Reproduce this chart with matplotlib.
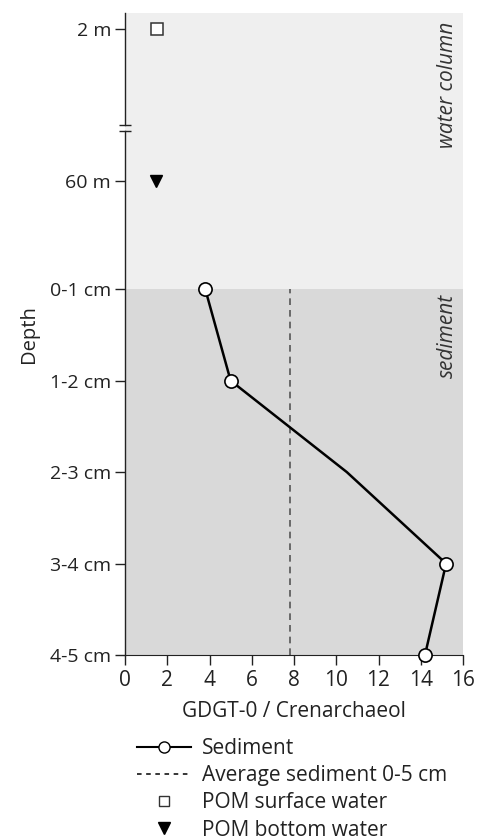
import matplotlib
matplotlib.use('Agg')
import matplotlib.pyplot as plt
from matplotlib.lines import Line2D

plt.rcParams['font.family'] = ['Open Sans', 'DejaVu Sans']

# ─── Data ─────────────────────────────────────────────────────────────────────
depth_labels = ['2 m', '60 m', '0-1 cm', '1-2 cm', '2-3 cm', '3-4 cm', '4-5 cm']
sed_labels = ['0-1 cm', '1-2 cm', '2-3 cm', '3-4 cm', '4-5 cm']
sed_ratio = [3.8, 5.0, 10.5, 15.2, 14.2]
sed_marked = [0, 1, 3, 4]   # 2-3 cm has no marker in the original
sed_avg = 7.83
pom_surface = 1.5   # 2 m
pom_bottom = 1.45   # 60 m

# vertical layout of the (broken) depth axis
ypos = {'2 m': -2.85, '60 m': -1.18, '0-1 cm': 0, '1-2 cm': 1,
        '2-3 cm': 2, '3-4 cm': 3, '4-5 cm': 4}
y_top, y_bot, y_break = -3.02, 4.0, -1.76

fig = plt.figure(figsize=(4.78, 8.4), dpi=100)
ax = fig.add_axes([125/478, 1 - 655/840, 338/478, 642/840])

ax.axhspan(y_top, 0, color='#efefef', lw=0, zorder=0)
ax.axhspan(0, y_bot, color='#d9d9d9', lw=0, zorder=0)

ax.axvline(sed_avg, ymin=0, ymax=(y_bot - 0) / (y_bot - y_top),
           color='#555555', ls=(0, (4, 3)), lw=1.2, zorder=2)
ax.plot(sed_ratio, [ypos[d] for d in sed_labels], '-o', color='black', lw=1.8,
        markevery=sed_marked, mfc='white', mec='black', mew=1.2, ms=9.5,
        zorder=3, clip_on=False)
ax.plot(pom_surface, ypos['2 m'], 's', mfc='white', mec='#333333', mew=1.1, ms=8.5)
ax.plot(pom_bottom, ypos['60 m'], 'v', color='black', ms=9)

ax.set_xlim(0, 16)
ax.set_ylim(y_bot, y_top)
ax.set_xticks(range(0, 17, 2))
ax.set_yticks([ypos[d] for d in depth_labels])
ax.set_yticklabels(depth_labels)
ax.tick_params(axis='both', direction='out', length=7, width=1,
               color='#222222', labelcolor='#222222')
ax.tick_params(axis='y', pad=3, labelsize=14)
ax.tick_params(axis='x', pad=4, labelsize=15)

for s in ['top', 'right', 'left']:
    ax.spines[s].set_visible(False)
ax.spines['bottom'].set_color('#222222')

# left spine with axis break
tr = ax.get_yaxis_transform()
ax.plot([0, 0], [y_top, y_break - 0.03], color='#222222', lw=1, transform=tr, clip_on=False)
ax.plot([0, 0], [y_break + 0.03, y_bot], color='#222222', lw=1, transform=tr, clip_on=False)
ax.plot([0, 0], [y_break - 0.03, y_break + 0.03], ls='none', marker='_', ms=8, mew=1,
        color='#222222', transform=tr, clip_on=False)

ax.text(0.985, y_top + 0.1, 'water column', rotation=90, style='italic', fontsize=15,
        color='#333333', ha='right', va='top', transform=tr)
ax.text(0.985, 0.05, 'sediment', rotation=90, style='italic', fontsize=15,
        color='#333333', ha='right', va='top', transform=tr)

ax.set_xlabel('GDGT-0 / Crenarchaeol', fontsize=15, color='#222222', labelpad=7)
ax.set_ylabel('Depth', fontsize=14.5, color='#222222', labelpad=8)

handles = [
    Line2D([], [], color='black', lw=1.5, marker='o', mfc='white', mec='black', ms=8),
    Line2D([], [], color='black', lw=1.1, ls=(0, (3, 3))),
    Line2D([], [], ls='none', marker='s', mfc='white', mec='#333333', ms=7),
    Line2D([], [], ls='none', marker='v', color='black', ms=8),
]
labels = ['Sediment', 'Average sediment 0-5 cm', 'POM surface water', 'POM bottom water']
fig.legend(handles, labels, loc='upper left', bbox_to_anchor=(137/478, 1 - 738/840),
           frameon=False, fontsize=15, handlelength=2.6, handletextpad=0.5,
           labelspacing=0.3, borderpad=0, borderaxespad=0, labelcolor='#222222')

fig.savefig('out.png', dpi=100)
